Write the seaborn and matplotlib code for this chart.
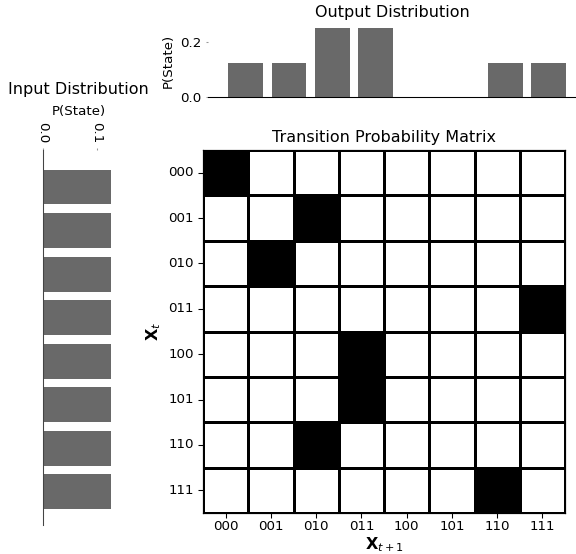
import matplotlib
matplotlib.use("Agg")
import matplotlib.pyplot as plt
import seaborn as sns
import numpy as np
import pandas as pd
from matplotlib.colors import ListedColormap

states = ["000", "001", "010", "011", "100", "101", "110", "111"]
input_prob = [0.125, 0.125, 0.125, 0.125, 0.125, 0.125, 0.125, 0.125]
# next state for each current state (deterministic transitions)
next_state = ["000", "010", "001", "111", "011", "011", "010", "110"]
output_prob = [0.125, 0.125, 0.25, 0.25, 0.0, 0.0, 0.125, 0.125]
out_ticks = [0.0, 0.2]
out_ticklabels = ["0.0", "0.2"]
in_ticks = [0.0, 0.1]
in_ticklabels = ["0.0", "0.1"]

tpm = pd.DataFrame(0.0, index=states, columns=states)
for s, n in zip(states, next_state):
    tpm.loc[s, n] = 1.0

DPI = 96
W, H = 576, 554
fig = plt.figure(figsize=(W / DPI, H / DPI), dpi=DPI)

def rect(x0, y0, x1, y1):
    return [x0 / W, 1 - y1 / H, (x1 - x0) / W, (y1 - y0) / H]

# Heatmap
ax_h = fig.add_axes(rect(203, 150, 565, 513))
sns.heatmap(tpm, ax=ax_h, cmap=ListedColormap(["white", "black"]), cbar=False,
            linewidths=0.8, linecolor="black", vmin=0, vmax=1,
            xticklabels=states, yticklabels=states)
for sp in ax_h.spines.values():
    sp.set_visible(True)
    sp.set_linewidth(0.9)
    sp.set_color("black")
ax_h.set_title("Transition Probability Matrix", fontsize=12)
ax_h.set_xlabel(r"$\mathbf{X}_{t+1}$", fontsize=12, labelpad=1.5)
ax_h.set_ylabel(r"$\mathbf{X}_t$", fontsize=12)
ax_h.tick_params(axis="y", rotation=0)
ax_h.tick_params(axis="x", rotation=0, pad=2)

# Output distribution
ax_o = fig.add_axes(rect(208, 24.8, 576, 97))
sns.barplot(x=states, y=output_prob, ax=ax_o, color="dimgray", saturation=1)
ax_o.set_xlim(-0.87, 7.63)
ax_o.set_ylim(0, 0.2625)
ax_o.set_yticks(out_ticks)
ax_o.set_yticklabels(out_ticklabels)
ax_o.set_xticks([])
ax_o.tick_params(axis="y", length=1.5, color="#999999", labelcolor="black")
ax_o.set_ylabel("P(State)")
ax_o.set_title("Output Distribution", fontsize=12)
for sp in ["top", "right", "left"]:
    ax_o.spines[sp].set_visible(False)

# Input distribution
ax_i = fig.add_axes(rect(43, 150, 114, 525))
sns.barplot(x=input_prob, y=states, ax=ax_i, color="dimgray", saturation=1, orient="h")
ax_i.set_xlim(0, 0.13125)
ax_i.set_ylim(7.76, -0.85)
ax_i.set_xticks(in_ticks)
ax_i.set_xticklabels(in_ticklabels)
ax_i.xaxis.tick_top()
ax_i.xaxis.set_label_position("top")
ax_i.set_xlabel("P(State)", labelpad=5)
ax_i.set_ylabel("")
ax_i.set_yticks([])
ax_i.tick_params(axis="x", rotation=-90, length=1.5, color="#999999")
ax_i.set_title("Input Distribution", fontsize=12, pad=8.5)
ax_i.spines["left"].set_color("#444444")
for sp in ["top", "right", "bottom"]:
    ax_i.spines[sp].set_visible(False)

fig.savefig("out.png", dpi=DPI)
